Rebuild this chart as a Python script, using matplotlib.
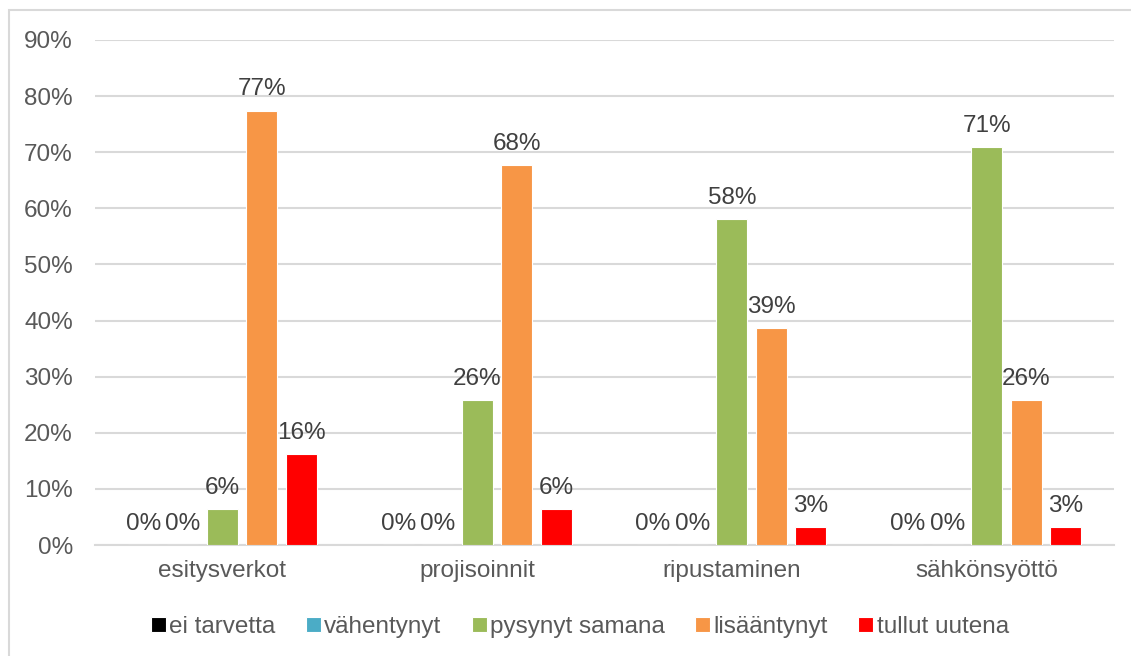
import numpy as np
import matplotlib.pyplot as plt
from matplotlib.patches import Rectangle

categories = ['esitysverkot', 'projisoinnit', 'ripustaminen', 'sähkönsyöttö']
series_names = ['ei tarvetta', 'vähentynyt', 'pysynyt samana', 'lisääntynyt', 'tullut uutena']
ei_tarvetta = [0.0, 0.0, 0.0, 0.0]
vahentynyt = [0.0, 0.0, 0.0, 0.0]
pysynyt_samana = [6.45, 25.81, 58.06, 70.97]
lisaantynyt = [77.42, 67.74, 38.71, 25.81]
tullut_uutena = [16.13, 6.45, 3.23, 3.23]
colors = ['#000000', '#4BACC6', '#9BBB59', '#F79646', '#FF0000']


def main():
    plt.rcParams['font.family'] = ['Liberation Sans', 'DejaVu Sans']
    fig = plt.figure(figsize=(11.31, 6.56), dpi=100)
    fig.patches.append(Rectangle((9 / 1131, -0.01), 1.2, 1 - 10 / 656 + 0.01,
                                 transform=fig.transFigure, fill=False,
                                 edgecolor='#D9D9D9', linewidth=1.5))
    ax = fig.add_axes([95 / 1131, 1 - 545 / 656, 1019 / 1131, 505 / 656])

    data = [ei_tarvetta, vahentynyt, pysynyt_samana, lisaantynyt, tullut_uutena]
    x = np.arange(len(categories))
    step = 0.155
    width = 0.122
    fs = 17.5
    for i, vals in enumerate(data):
        pos = x + (i - 2) * step
        bars = ax.bar(pos, vals, width, color=colors[i], edgecolor='white',
                      linewidth=0.8, label=series_names[i], zorder=3)
        for b, v in zip(bars, vals):
            ax.text(b.get_x() + b.get_width() / 2, v + 1.8, f'{v:.0f}%',
                    ha='center', va='bottom', fontsize=fs, color='#404040')

    ax.set_xlim(-0.5, 3.5)
    ax.set_ylim(0, 90)
    ax.set_yticks(np.arange(0, 91, 10))
    ax.set_yticklabels([f'{t}%' for t in range(0, 91, 10)])
    ax.set_xticks(x)
    ax.set_xticklabels(categories)
    ax.tick_params(axis='both', length=0, labelsize=fs, labelcolor='#595959')
    ax.tick_params(axis='y', pad=16)
    ax.tick_params(axis='x', pad=11)
    ax.yaxis.grid(True, color='#D9D9D9', linewidth=1.5, zorder=0)
    for s in ['top', 'right', 'left']:
        ax.spines[s].set_visible(False)
    ax.spines['bottom'].set_color('#D9D9D9')
    ax.spines['bottom'].set_linewidth(1.5)

    fig.legend(loc='center', bbox_to_anchor=(580 / 1131, 1 - 627 / 656), ncol=5,
               frameon=False, fontsize=fs, handlelength=0.6, handleheight=0.6,
               handletextpad=0.15, columnspacing=1.25, labelcolor='#595959')

    fig.savefig('out.png', dpi=100)


if __name__ == '__main__':
    main()
